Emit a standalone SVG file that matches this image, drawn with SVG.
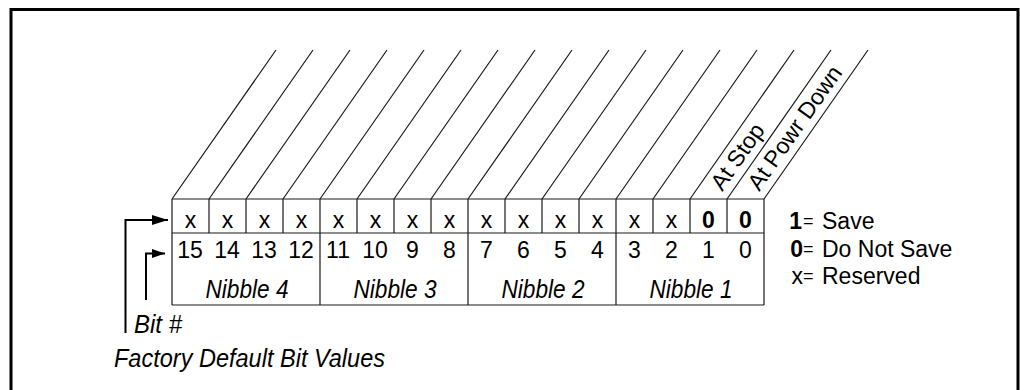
<svg xmlns="http://www.w3.org/2000/svg" width="1020" height="390" viewBox="0 0 1020 390">
<style>
.t{font-family:"Liberation Sans",Arial,Helvetica,sans-serif;font-size:23px;fill:#000}
.c{text-anchor:middle}
.e{text-anchor:end}
.q{font-size:18px}
.b{font-weight:bold}
.i{font-style:italic;font-size:25px}
.g{stroke:#1a1a1a;stroke-width:1.2;fill:none}
</style>
<defs>
<marker id="ah" viewBox="0 0 16 10" refX="16" refY="5" markerWidth="16" markerHeight="10" markerUnits="userSpaceOnUse" orient="auto">
<path d="M0,0 L16,5 L0,10 Z" fill="#000"/>
</marker>
<marker id="ah2" viewBox="0 0 13 9" refX="13" refY="4.5" markerWidth="13" markerHeight="9" markerUnits="userSpaceOnUse" orient="auto">
<path d="M0,0 L13,4.5 L0,9 Z" fill="#000"/>
</marker>
</defs>
<rect width="1020" height="390" fill="#fff"/>
<path d="M11,392 V9.5 H1018 V392" fill="none" stroke="#000" stroke-width="3"/>

<g id="diagonals" class="g">
<path d="M172,199 L276,50 M209,199 L313,50 M246,199 L350,50 M283,199 L387,50 M320,199 L424,50 M357,199 L461,50 M394,199 L498,50 M431,199 L535,50 M468,199 L572,50 M505,199 L609,50 M542,199 L646,50 M579,199 L683,50 M616,199 L720,50 M653,199 L757,50 M690,199 L794,50 M727,199 L831,50 M764,199 L868,50"/>
</g>

<g id="register" class="g">
<path d="M172,199 H764 M172,233 H764 M172,305 H764"/>
<path d="M172,199 V305 M209,199 V233 M246,199 V233 M283,199 V233 M320,199 V305 M357,199 V233 M394,199 V233 M431,199 V233 M468,199 V305 M505,199 V233 M542,199 V233 M579,199 V233 M616,199 V305 M653,199 V233 M690,199 V233 M727,199 V233 M764,199 V305"/>
</g>

<g id="values" class="t c">
<text x="190.5" y="228">x</text><text x="227.5" y="228">x</text><text x="264.5" y="228">x</text><text x="301.5" y="228">x</text>
<text x="338.5" y="228">x</text><text x="375.5" y="228">x</text><text x="412.5" y="228">x</text><text x="449.5" y="228">x</text>
<text x="486.5" y="228">x</text><text x="523.5" y="228">x</text><text x="560.5" y="228">x</text><text x="597.5" y="228">x</text>
<text x="634.5" y="228">x</text><text x="671.5" y="228">x</text>
<text x="708.5" y="227.5" class="b">0</text><text x="745.5" y="227.5" class="b">0</text>
</g>

<g id="bits" class="t c">
<text x="190" y="258">15</text><text x="227" y="258">14</text><text x="264" y="258">13</text><text x="301" y="258">12</text>
<text x="338" y="258">11</text><text x="375" y="258">10</text><text x="412.5" y="258">9</text><text x="449.5" y="258">8</text>
<text x="486.5" y="258">7</text><text x="523.5" y="258">6</text><text x="560.5" y="258">5</text><text x="597.5" y="258">4</text>
<text x="634.5" y="258">3</text><text x="671.5" y="258">2</text><text x="708.5" y="258">1</text><text x="745.5" y="258">0</text>
</g>

<g id="nibbles" class="t c i">
<text x="247" y="298" textLength="83" lengthAdjust="spacingAndGlyphs">Nibble 4</text>
<text x="395" y="298" textLength="83" lengthAdjust="spacingAndGlyphs">Nibble 3</text>
<text x="543" y="298" textLength="83" lengthAdjust="spacingAndGlyphs">Nibble 2</text>
<text x="691" y="298" textLength="83" lengthAdjust="spacingAndGlyphs">Nibble 1</text>
</g>

<g id="at-stop">
<text class="t" transform="translate(722.2,191.9) rotate(-54.9)">At Stop</text>
</g>
<g id="at-power-down">
<text class="t" transform="translate(759.2,191.9) rotate(-54.9)">At Powr Down</text>
</g>

<g id="legend" class="t">
<text x="802" y="228.5" class="b e">1</text><text x="803" y="226.5" class="q">=</text><text x="822" y="228.5">Save</text>
<text x="803" y="256.5" class="b e">0</text><text x="803" y="254.5" class="q">=</text><text x="822" y="256.5">Do Not Save</text>
<text x="803" y="283.5" class="e">x</text><text x="803" y="281.5" class="q">=</text><text x="822" y="283.5">Reserved</text>
</g>

<g id="labels" class="t i">
<text x="134" y="333" textLength="48" lengthAdjust="spacingAndGlyphs">Bit #</text>
<text x="114" y="367" textLength="271" lengthAdjust="spacingAndGlyphs">Factory Default Bit Values</text>
</g>

<g id="connectors" fill="none" stroke="#000" stroke-width="2">
<path d="M125.5,333 V220 H168" marker-end="url(#ah)"/>
<path d="M146,300 V253.5 H165" marker-end="url(#ah2)"/>
</g>
</svg>
